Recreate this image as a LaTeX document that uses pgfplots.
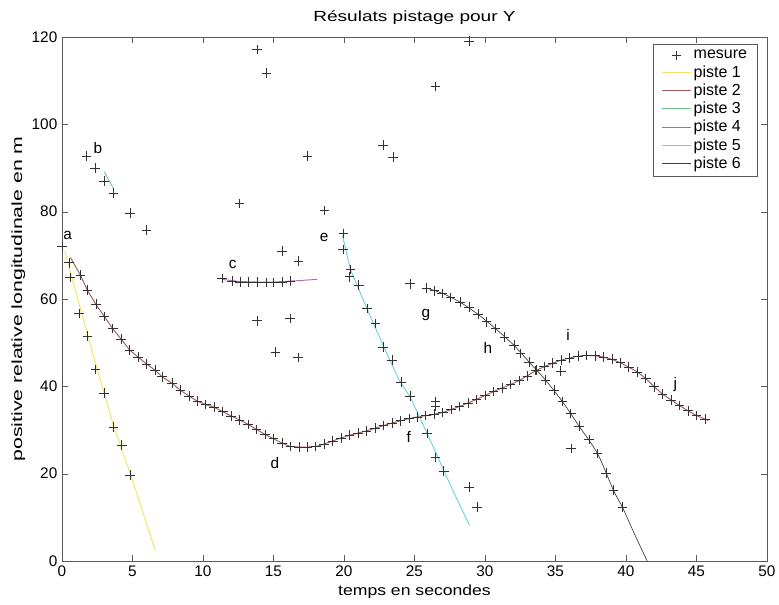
\documentclass[border=0pt]{standalone}
\usepackage{pgfplots}
\pgfplotsset{compat=1.18}
\usepackage{fontspec}
\setmainfont{Liberation Sans}
\definecolor{p1}{RGB}{245,225,100}
\definecolor{p2}{RGB}{160,90,90}
\definecolor{p3}{RGB}{110,200,140}
\definecolor{p4}{RGB}{175,105,170}
\definecolor{p5}{RGB}{110,210,220}
\definecolor{p6}{RGB}{60,60,60}
\definecolor{ax}{RGB}{90,90,90}
\pgfplotsset{legend image code/.code={\draw[mark repeat=2,mark phase=2,#1] plot coordinates {(0cm,0cm) (0.375cm,0cm) (0.75cm,0cm)};}}
\begin{document}
\begin{tikzpicture}
\useasboundingbox (-46.5pt,-32.25pt) rectangle (537.75pt,420.75pt);
\begin{axis}[
  scale only axis, width=528.75pt, height=393pt,
  at={(0,0)}, anchor=south west,
  xmin=0, xmax=50, ymin=0, ymax=120,
  xtick={0,5,...,50}, ytick={0,20,...,120},
  tick align=inside, major tick length=4.5pt,
  axis line style={ax}, tick style={ax},
  xtick pos=both, ytick pos=both,
  xticklabel pos=lower, yticklabel pos=left,
  /pgf/number format/assume math mode=true,
  tick label style={font=\fontsize{11.5}{13}\selectfont},
  title={\scalebox{1.3}[1]{Résulats pistage pour Y}},
  title style={font=\fontsize{11}{13}\selectfont, yshift=0pt},
  xlabel={\scalebox{1.2}[1]{temps en secondes}},
  ylabel={\scalebox{1.45}[1]{positive relative longitudinale en m}},
  label style={font=\fontsize{11}{13}\selectfont},
  xlabel style={yshift=1pt},
  ylabel style={yshift=-2pt},
  legend style={at={(1,1)}, anchor=north east, xshift=-6.75pt, yshift=-5.25pt,
    font=\fontsize{12}{13.5}\selectfont, draw=ax, row sep=-0.5pt, inner ysep=2.5pt, inner xsep=6pt,
    cells={anchor=west}},
  legend cell align=left,
  every axis plot/.append style={line width=0.7pt},
]
% mesure
\addplot[only marks, mark=+, mark size=3.6pt, mark options={line width=0.5pt, draw=black!80}] coordinates {
(0,72) (1.75,92.7) (2.34,90.0) (3.0,87.0) (3.65,84.3) (4.83,79.7) (6.0,75.8)
(12.6,81.9) (13.83,117.1) (14.49,111.7) (17.42,92.7) (18.61,80.3) (22.77,95.2) (23.49,92.5)
(28.86,119.1) (26.49,108.7) (15.6,71.0) (16.78,68.7) (13.83,55.0) (16.19,55.5) (15.13,47.9)
(16.74,46.6) (19.96,75) (24.67,63.5) (35.37,43.5) (36.1,25.8) (28.86,16.9) (29.45,12.4)
(26.5,36.5) (26.5,35.5)
(0.5,68.3) (0.57,64.9) (1.21,56.7) (1.8,51.5) (2.39,43.9) (3.0,38.5) (3.65,30.7) (4.24,26.5) (4.83,19.7)
(1.3,65.5) (1.8,62) (2.4,58.8) (3.0,56) (3.6,53.2) (4.2,50.8) (4.8,48.3) (5.4,46.7) (6.0,45.1)
(6.6,43.7) (7.1,42.2) (7.8,40.7) (8.4,39.1) (9.0,37.8) (9.6,36.6) (10.2,35.8) (10.8,35.2)
(11.4,34.2) (12.0,33.2) (12.6,32.3) (13.2,31.3) (13.8,30.1) (14.4,29.0) (15.0,28.0) (15.6,27.0)
(16.2,26.2) (16.8,26.1) (17.4,26.1) (18.0,26.2) (18.6,26.8) (19.2,27.5) (19.8,28.2) (20.4,28.8)
(21.0,29.3) (21.6,29.8) (22.2,30.4) (22.8,31.0) (23.4,31.6) (24.0,32.1) (24.6,32.6) (25.2,33.0)
(25.8,33.3) (26.4,33.6) (27.0,34.0) (27.6,34.7) (28.2,35.4) (28.8,36.2) (29.4,37.0) (30.0,37.9)
(30.6,38.8) (31.2,39.6) (31.8,40.4) (32.4,41.3) (33.0,42.4) (33.6,43.6) (34.2,44.5) (34.8,45.3)
(35.4,46.0) (36.0,46.5) (36.6,46.9) (37.2,47.1) (37.8,47.0) (38.4,46.7) (39.0,46.2) (39.6,45.4)
(40.2,44.4) (40.8,43.3) (41.4,41.8) (42.0,39.9) (42.6,38.2) (43.2,36.9) (43.8,35.6) (44.4,34.4)
(45.0,33.3) (45.6,32.5)
(11.34,64.7) (12.05,64.1) (12.64,63.9) (13.23,63.9) (13.83,63.9) (14.49,63.8) (15.0,63.8) (15.6,63.9) (16.2,64.1)
(19.93,71.3) (20.45,66.8) (20.4,65.1) (21.05,63.2) (21.64,57.8) (22.23,54.4) (22.78,49.0) (23.42,46.0)
(24.05,41.0) (24.67,37.8) (25.9,29.2) (26.49,23.7) (27.08,20.6)
(25.85,62.5) (26.42,61.9) (26.97,61.3) (27.56,60.3) (28.22,59.3) (28.86,58.1) (29.5,56.5) (30.1,54.8)
(30.75,53.2) (31.39,51.3) (32.05,49.4) (32.53,47.5) (33.12,45.6) (33.66,43.7) (34.3,41.4) (34.9,39.1)
(35.49,36.5) (36.08,33.8) (36.67,30.9) (37.38,27.8) (37.98,24.6) (38.57,20.1) (39.11,16.2) (39.75,12.3)
};
\addlegendentry{mesure}
% piste 1
\addplot[p1, no marks] coordinates {(0.2,71) (1.2,59) (2.4,45) (3.7,30.5) (4.9,19.5) (6.6,2.5)};
\addlegendentry{piste 1}
% piste 2
\addplot[p2, no marks] coordinates {
(0.6,69.5) (1.3,65.5) (1.8,62) (2.4,58.8) (3.0,56) (3.6,53.2) (4.2,50.8) (4.8,48.3) (5.4,46.7) (6.0,45.1)
(6.6,43.7) (7.1,42.2) (7.8,40.7) (8.4,39.1) (9.0,37.8) (9.6,36.6) (10.2,35.8) (10.8,35.2)
(11.4,34.2) (12.0,33.2) (12.6,32.3) (13.2,31.3) (13.8,30.1) (14.4,29.0) (15.0,28.0) (15.6,27.0)
(16.2,26.2) (16.8,26.1) (17.4,26.1) (18.0,26.2) (18.6,26.8) (19.2,27.5) (19.8,28.2) (20.4,28.8)
(21.0,29.3) (21.6,29.8) (22.2,30.4) (22.8,31.0) (23.4,31.6) (24.0,32.1) (24.6,32.6) (25.2,33.0)
(25.8,33.3) (26.4,33.6) (27.0,34.0) (27.6,34.7) (28.2,35.4) (28.8,36.2) (29.4,37.0) (30.0,37.9)
(30.6,38.8) (31.2,39.6) (31.8,40.4) (32.4,41.3) (33.0,42.4) (33.6,43.6) (34.2,44.5) (34.8,45.3)
(35.4,46.0) (36.0,46.5) (36.6,46.9) (37.2,47.1) (37.8,47.0) (38.4,46.7) (39.0,46.2) (39.6,45.4)
(40.2,44.4) (40.8,43.3) (41.4,41.8) (42.0,39.9) (42.6,38.2) (43.2,36.9) (43.8,35.6) (44.4,34.4)
(45.0,33.3) (45.6,32.5) (45.8,32.2)};
\addlegendentry{piste 2}
% piste 3
\addplot[p3, no marks] coordinates {(3.0,89.1) (3.65,85.3)};
\addlegendentry{piste 3}
% piste 4
\addplot[p4, no marks] coordinates {(11.34,64.5) (12.6,64.0) (13.8,63.9) (15.0,63.9) (16.2,64.1) (17.2,64.3) (18.1,64.5)};
\addlegendentry{piste 4}
% piste 5
\addplot[p5, no marks] coordinates {(19.9,74.5) (20.45,66.8) (21.6,58) (22.8,49.2) (23.9,41.5) (24.7,37.5) (25.9,29.2) (27.1,20.6) (28.0,14.2) (28.9,8.2)};
\addlegendentry{piste 5}
% piste 6
\addplot[p6, no marks, line width=0.5pt, smooth] coordinates {
(25.85,62.5) (26.97,61.3) (28.22,59.3) (29.5,56.5) (30.75,53.2) (32.05,49.4) (33.12,45.6)
(34.3,41.4) (35.49,36.5) (36.67,30.9) (37.98,24.6) (39.11,16.2) (39.75,12.3) (40.6,6.2) (41.5,0)};
\addlegendentry{piste 6}
% labels
\begin{scope}[every node/.style={font=\fontsize{11.5}{13}\selectfont, inner sep=0pt}]
\node at (axis cs:0.4,74.6) {a};
\node at (axis cs:2.55,94.5) {b};
\node at (axis cs:12.1,68) {c};
\node at (axis cs:15.1,22.4) {d};
\node at (axis cs:18.6,74.1) {e};
\node at (axis cs:24.6,28.4) {f};
\node at (axis cs:25.8,56.3) {g};
\node at (axis cs:30.2,48.7) {h};
\node at (axis cs:35.9,51.7) {i};
\node at (axis cs:43.5,40.3) {j};
\end{scope}
\end{axis}
\end{tikzpicture}
\end{document}
